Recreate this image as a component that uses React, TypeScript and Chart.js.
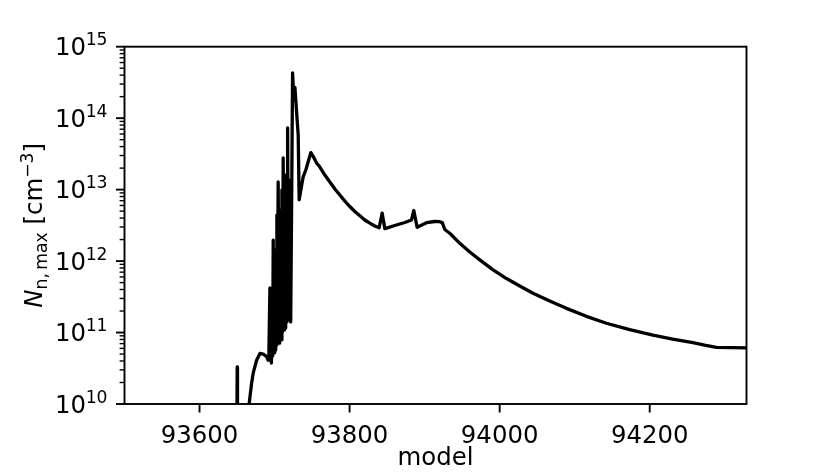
import React, { useEffect, useRef } from "react";
import { Chart, registerables } from "chart.js";

Chart.register(...registerables);

// ---- data ----
const models: number[] = [
  93649.8, 93650.2, 93650.6, 93665.0, 93666.2, 93669.4, 93671.5, 93676.1, 93680.5, 93684.9,
  93689.4, 93691.5, 93692.5, 93693.8, 93695.8, 93696.9, 93697.5, 93698.2, 93699.5, 93700.2,
  93700.9, 93701.5, 93702.2, 93703.1, 93703.8, 93704.8, 93706.2, 93706.8, 93707.5, 93708.2,
  93708.8, 93709.8, 93710.6, 93711.5, 93712.8, 93713.5, 93714.2, 93714.8, 93715.6, 93716.4,
  93716.8, 93717.4, 93718.4, 93719.1, 93720.4, 93721.5, 93722.8, 93724.0, 93725.8, 93727.1,
  93731.5, 93732.8, 93738.1, 93741.7, 93748.4, 93752.4, 93756.0, 93760.4, 93767.0, 93773.7,
  93780.4, 93787.0, 93793.7, 93800.3, 93807.0, 93813.7, 93820.3, 93827.0, 93833.6, 93839.4,
  93843.4, 93847.0, 93860.3, 93873.6, 93882.5, 93885.6, 93890.0, 93902.5, 93913.6, 93920.2,
  93923.5, 93926.9, 93933.5, 93946.9, 93960.2, 93973.5, 93990.8, 94009.1, 94026.8, 94044.5,
  94066.7, 94089.0, 94114.7, 94142.2, 94173.3, 94204.3, 94230.5, 94257.6, 94273.2, 94288.8,
  94328.7,
];
const nMax: number[] = [
  5e9, 3.3e10, 5e9, 5e9, 1.02e10, 1.95e10, 2.7e10, 4.1e10, 5.1e10, 5.0e10,
  4.6e10, 4.1e10, 5.7e10, 4.2e11, 3.75e10, 1.5e11, 4.7e10, 1.97e12, 5.2e10, 2.85e11,
  5.7e10, 1.43e12, 6.7e10, 4.4e12, 9.2e10, 1.28e13, 7.1e10, 1.04e12, 8.4e10, 5.2e12,
  7.9e10, 9.9e12, 1.02e11, 2.77e13, 1.09e11, 2.72e12, 1.16e11, 1.6e13, 1.41e11, 7.2e12,
  1.76e11, 7.3e13, 2.85e11, 1.5e11, 1.36e13, 1.41e11, 7.2e12, 4.3e14, 1.8e14, 2.7e14,
  5.8e13, 7.2e12, 1.5e13, 1.9e13, 3.3e13, 2.8e13, 2.36e13, 2.07e13, 1.6e13, 1.28e13,
  1.02e13, 8.4e12, 6.9e12, 5.8e12, 4.94e12, 4.3e12, 3.76e12, 3.4e12, 3.1e12, 2.93e12,
  4.7e12, 2.84e12, 3.15e12, 3.47e12, 3.76e12, 5.1e12, 2.97e12, 3.44e12, 3.58e12, 3.56e12,
  3.45e12, 2.77e12, 2.45e12, 1.77e12, 1.34e12, 1.04e12, 7.6e11, 5.7e11, 4.48e11, 3.54e11,
  2.76e11, 2.18e11, 1.7e11, 1.35e11, 1.1e11, 9.2e10, 8.1e10, 7.2e10, 6.65e10, 6.2e10,
  6.1e10,
];
const xTicks: number[] = [93600, 93800, 94000, 94200];
const yDecades: number[] = [10, 11, 12, 13, 14, 15];
const minorMultipliers: number[] = [2, 3, 4, 5, 6, 7, 8, 9];
const xLabel = "model";
const X_MIN = 93500;
const X_MAX = 94329;
const Y_MIN = 1e10;
const Y_MAX = 1e15;

const FONT = '"DejaVu Sans", sans-serif';
const FS = 24.4;
const FS_SMALL = 17.2;

const mplAxes = {
  id: "mplAxes",
  afterDraw(chart: any) {
    const ctx: CanvasRenderingContext2D = chart.ctx;
    const { left, right, top, bottom } = chart.chartArea;
    const xs = chart.scales.x;
    const ys = chart.scales.y;
    ctx.save();
    ctx.strokeStyle = "#000";
    ctx.fillStyle = "#000";
    ctx.lineCap = "butt";

    // spines
    ctx.lineWidth = 1.9;
    ctx.strokeRect(left, top, right - left, bottom - top);

    // x ticks + labels
    ctx.lineWidth = 1.9;
    for (const v of xTicks) {
      const px = xs.getPixelForValue(v);
      ctx.beginPath();
      ctx.moveTo(px, bottom);
      ctx.lineTo(px, bottom + 8.5);
      ctx.stroke();
    }
    ctx.font = `${FS}px ${FONT}`;
    ctx.textAlign = "center";
    ctx.textBaseline = "alphabetic";
    for (const v of xTicks) {
      ctx.fillText(String(v), xs.getPixelForValue(v), 443);
    }
    // x label
    ctx.fillText(xLabel, (left + right) / 2, 465);

    // y ticks (major + minor)
    for (const d of yDecades) {
      const base = Math.pow(10, d);
      const py = ys.getPixelForValue(base);
      ctx.lineWidth = 1.9;
      ctx.beginPath();
      ctx.moveTo(left, py);
      ctx.lineTo(left - 8.5, py);
      ctx.stroke();
      if (base >= Y_MAX) continue;
      ctx.lineWidth = 1.4;
      for (const m of minorMultipliers) {
        const pm = ys.getPixelForValue(m * base);
        ctx.beginPath();
        ctx.moveTo(left, pm);
        ctx.lineTo(left - 4.9, pm);
        ctx.stroke();
      }
    }
    // y tick labels 10^d
    const xRight = left - 8.5 - 8.5;
    for (const d of yDecades) {
      const py = ys.getPixelForValue(Math.pow(10, d));
      const sup = String(d);
      ctx.font = `${FS_SMALL}px ${FONT}`;
      const supW = ctx.measureText(sup).width;
      ctx.textAlign = "left";
      ctx.fillText(sup, xRight - supW, py + 8.5 - 10);
      ctx.font = `${FS}px ${FONT}`;
      ctx.textAlign = "right";
      ctx.fillText("10", xRight - supW + 0.5, py + 8.5);
    }

    // y axis title (rotated)
    const segs = [
      { t: "N", f: `italic ${FS}px ${FONT}`, dy: 0 },
      { t: "n,\u2009max", f: `${FS_SMALL}px ${FONT}`, dy: 4.5 },
      { t: " [cm", f: `${FS}px ${FONT}`, dy: 0 },
      { t: "\u22123", f: `${FS_SMALL}px ${FONT}`, dy: -9.5 },
      { t: "]", f: `${FS}px ${FONT}`, dy: 0 },
    ];
    let total = 0;
    const widths: number[] = [];
    for (const s of segs) {
      ctx.font = s.f;
      const w = ctx.measureText(s.t).width;
      widths.push(w);
      total += w;
    }
    ctx.translate(42, (top + bottom) / 2);
    ctx.rotate(-Math.PI / 2);
    ctx.textAlign = "left";
    let u = -total / 2;
    segs.forEach((s, i) => {
      ctx.font = s.f;
      ctx.fillText(s.t, u, s.dy);
      u += widths[i];
    });
    ctx.restore();
  },
};

export default function App() {
  const ref = useRef<HTMLCanvasElement | null>(null);
  useEffect(() => {
    if (!ref.current) return;
    const points = models.map((m, i) => ({ x: m, y: nMax[i] }));
    const chart = new Chart(ref.current, {
      type: "line",
      data: {
        datasets: [
          {
            data: points,
            borderColor: "#000",
            borderWidth: 3.3,
            pointRadius: 0,
            tension: 0,
            fill: false,
            borderJoinStyle: "round",
            borderCapStyle: "butt",
            clip: 0,
          } as any,
        ],
      },
      options: {
        animation: false,
        responsive: false,
        events: [],
        layout: { padding: { left: 124.5, right: 83.5, top: 46.7, bottom: 71 } },
        scales: {
          x: { type: "linear", min: X_MIN, max: X_MAX, display: false },
          y: { type: "logarithmic", min: Y_MIN, max: Y_MAX, display: false },
        },
        plugins: { legend: { display: false }, tooltip: { enabled: false } },
      },
      plugins: [mplAxes],
    });
    return () => chart.destroy();
  }, []);
  return (
    <div style={{ position: "absolute", left: 0, top: 0, width: 830, height: 475, background: "#fff" }}>
      <canvas ref={ref} width={830} height={475} style={{ display: "block" }} />
    </div>
  );
}
